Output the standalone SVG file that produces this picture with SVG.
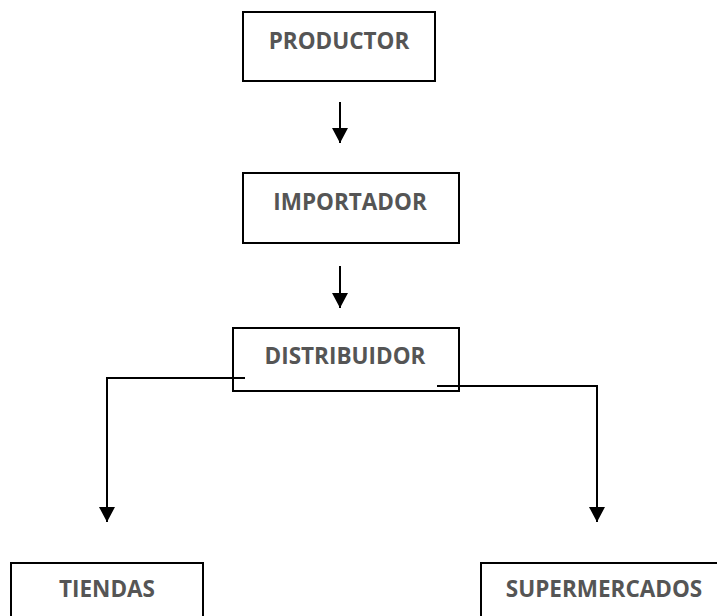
<svg xmlns="http://www.w3.org/2000/svg" width="717" height="616" viewBox="0 0 717 616">
  <defs>
    <style>
      .box { fill: #ffffff; stroke: #000000; stroke-width: 2; }
      .lbl { font-family: "Open Sans", "Liberation Sans", Arial, sans-serif; font-weight: bold; font-size: 22.5px; fill: #555555; text-anchor: middle; }
      .conn { fill: none; stroke: #000000; stroke-width: 2; }
    </style>
    <marker id="arrow" markerUnits="userSpaceOnUse" markerWidth="16" markerHeight="16" viewBox="0 0 16 16" refX="15" refY="8" orient="auto">
      <path d="M0,0 L15,8 L0,16 Z" fill="#000000"/>
    </marker>
  </defs>
  <rect width="717" height="616" fill="#ffffff"/>

  <g id="productor">
    <rect class="box" x="243" y="12" width="192" height="69"/>
    <text class="lbl" x="339" y="49">PRODUCTOR</text>
  </g>
  <g id="importador">
    <rect class="box" x="243" y="173" width="216" height="70"/>
    <text class="lbl" x="350" y="210">IMPORTADOR</text>
  </g>
  <g id="distribuidor">
    <rect class="box" x="233" y="328" width="226" height="63"/>
    <text class="lbl" x="345" y="364">DISTRIBUIDOR</text>
  </g>
  <g id="tiendas">
    <rect class="box" x="11" y="563" width="192" height="70"/>
    <text class="lbl" x="107" y="597">TIENDAS</text>
  </g>
  <g id="supermercados">
    <rect class="box" x="481" y="563" width="250" height="70"/>
    <text class="lbl" x="604" y="597">SUPERMERCADOS</text>
  </g>

  <g id="connectors">
    <line class="conn" x1="340" y1="102" x2="340" y2="143" marker-end="url(#arrow)"/>
    <line class="conn" x1="340" y1="266" x2="340" y2="308" marker-end="url(#arrow)"/>
    <polyline class="conn" points="245,378 107,378 107,522" marker-end="url(#arrow)"/>
    <polyline class="conn" points="437,386 597,386 597,522" marker-end="url(#arrow)"/>
  </g>
</svg>
